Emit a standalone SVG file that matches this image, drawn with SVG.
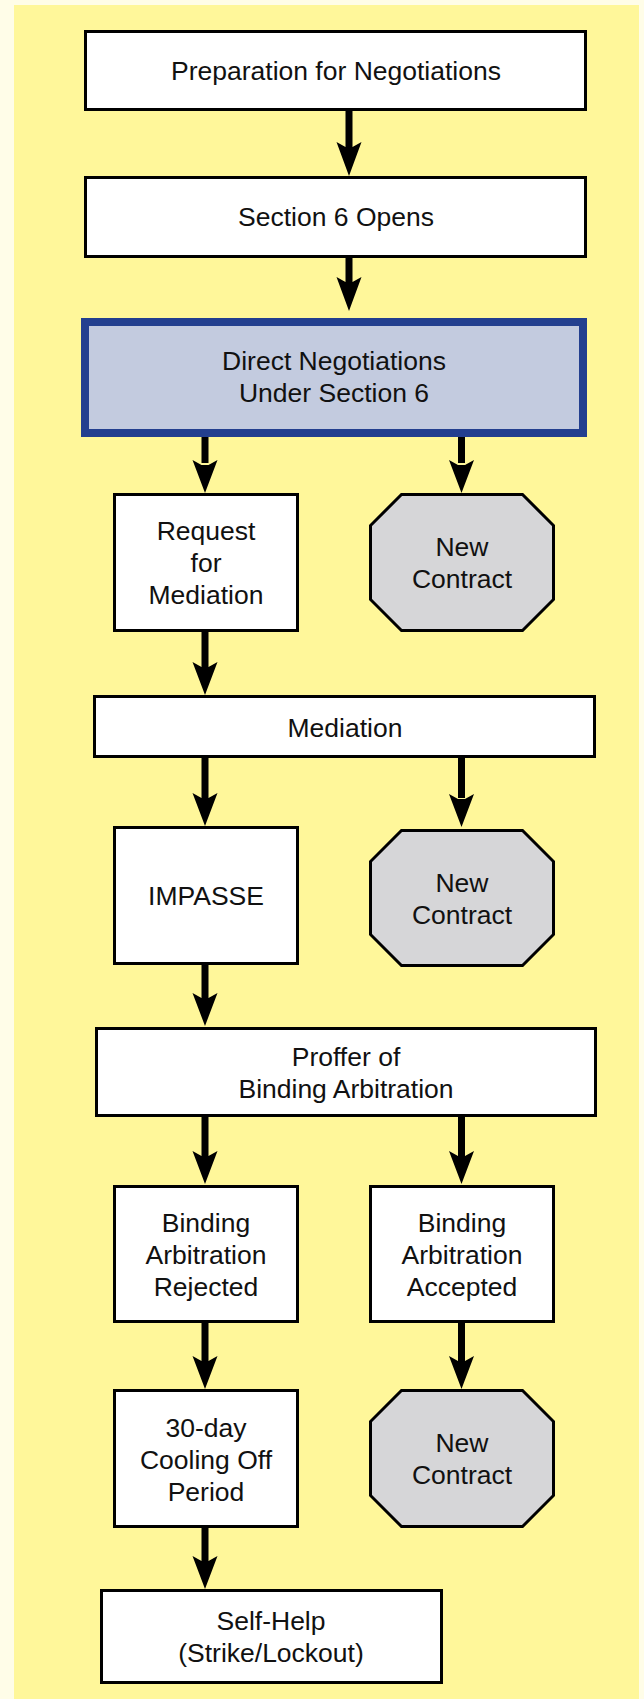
<svg xmlns="http://www.w3.org/2000/svg" width="644" height="1699" viewBox="0 0 644 1699">
<style>
.box{fill:#ffffff;stroke:#000;stroke-width:3}
.oct{fill:#d6d6d8;stroke:#000;stroke-width:3}
.blue{fill:#c3cbdf;stroke:#233f8f;stroke-width:8}
text{font-family:"Liberation Sans",Arial,sans-serif;font-size:26.5px;fill:#111;text-anchor:middle}
.arr{fill:#000}
</style>
<rect x="0" y="0" width="644" height="1699" fill="#fffde8"/>
<rect x="14" y="5" width="625" height="1694" fill="#fff79a"/>
<g id="connectors" class="arr">
<path d="M345.5,111 h7 v38 h-7 z M349,176 l-12.5,-34 l9,5 h7 l9,-5 z"/>
<path d="M345.5,258 h7 v28 h-7 z M349,311 l-12.5,-34 l9,5 h7 l9,-5 z"/>
<path d="M201.5,437 h7 v26 h-7 z M205,493 l-12.5,-33 l9,5 h7 l9,-5 z"/>
<path d="M458,437 h7 v26 h-7 z M461.5,493 l-12.5,-33 l9,5 h7 l9,-5 z"/>
<path d="M201.5,632 h7 v35 h-7 z M205,695 l-12.5,-33 l9,5 h7 l9,-5 z"/>
<path d="M201.5,758 h7 v40 h-7 z M205,826 l-12.5,-33 l9,5 h7 l9,-5 z"/>
<path d="M458,758 h7 v40 h-7 z M461.5,827 l-12.5,-33 l9,5 h7 l9,-5 z"/>
<path d="M201.5,965 h7 v34 h-7 z M205,1026 l-12.5,-33 l9,5 h7 l9,-5 z"/>
<path d="M201.5,1117 h7 v40 h-7 z M205,1184 l-12.5,-33 l9,5 h7 l9,-5 z"/>
<path d="M458,1117 h7 v40 h-7 z M461.5,1184 l-12.5,-33 l9,5 h7 l9,-5 z"/>
<path d="M201.5,1323 h7 v40 h-7 z M205,1389 l-12.5,-33 l9,5 h7 l9,-5 z"/>
<path d="M458,1323 h7 v40 h-7 z M461.5,1389 l-12.5,-33 l9,5 h7 l9,-5 z"/>
<path d="M201.5,1528 h7 v35 h-7 z M205,1589 l-12.5,-33 l9,5 h7 l9,-5 z"/>
</g>
<g id="n1"><rect class="box" x="85.5" y="31.5" width="500" height="78"/><text x="336" y="80">Preparation for Negotiations</text></g>
<g id="n2"><rect class="box" x="85.5" y="177.5" width="500" height="79"/><text x="336" y="226">Section 6 Opens</text></g>
<g id="n3"><rect class="blue" x="85" y="322" width="498" height="111"/><text x="334" y="370">Direct Negotiations</text><text x="334" y="402">Under Section 6</text></g>
<g id="n4"><rect class="box" x="114.5" y="494.5" width="183" height="136"/><text x="206" y="540">Request</text><text x="206" y="572">for</text><text x="206" y="604">Mediation</text></g>
<g id="n5"><polygon class="oct" points="401.5,494.5 522.5,494.5 553.5,525.5 553.5,599.5 522.5,630.5 401.5,630.5 370.5,599.5 370.5,525.5"/><text x="462" y="556">New</text><text x="462" y="588">Contract</text></g>
<g id="n6"><rect class="box" x="94.5" y="696.5" width="500" height="60"/><text x="345" y="737">Mediation</text></g>
<g id="n7"><rect class="box" x="114.5" y="827.5" width="183" height="136"/><text x="206" y="905">IMPASSE</text></g>
<g id="n8"><polygon class="oct" points="401.5,830.5 522.5,830.5 553.5,861.5 553.5,934.5 522.5,965.5 401.5,965.5 370.5,934.5 370.5,861.5"/><text x="462" y="892">New</text><text x="462" y="924">Contract</text></g>
<g id="n9"><rect class="box" x="96.5" y="1028.5" width="499" height="87"/><text x="346" y="1066">Proffer of</text><text x="346" y="1098">Binding Arbitration</text></g>
<g id="n10"><rect class="box" x="114.5" y="1186.5" width="183" height="135"/><text x="206" y="1232">Binding</text><text x="206" y="1264">Arbitration</text><text x="206" y="1296">Rejected</text></g>
<g id="n11"><rect class="box" x="370.5" y="1186.5" width="183" height="135"/><text x="462" y="1232">Binding</text><text x="462" y="1264">Arbitration</text><text x="462" y="1296">Accepted</text></g>
<g id="n12"><rect class="box" x="114.5" y="1390.5" width="183" height="136"/><text x="206" y="1437">30-day</text><text x="206" y="1469">Cooling Off</text><text x="206" y="1501">Period</text></g>
<g id="n13"><polygon class="oct" points="401.5,1390.5 522.5,1390.5 553.5,1421.5 553.5,1495.5 522.5,1526.5 401.5,1526.5 370.5,1495.5 370.5,1421.5"/><text x="462" y="1452">New</text><text x="462" y="1484">Contract</text></g>
<g id="n14"><rect class="box" x="101.5" y="1590.5" width="340" height="92"/><text x="271" y="1630">Self-Help</text><text x="271" y="1662">(Strike/Lockout)</text></g>
</svg>
